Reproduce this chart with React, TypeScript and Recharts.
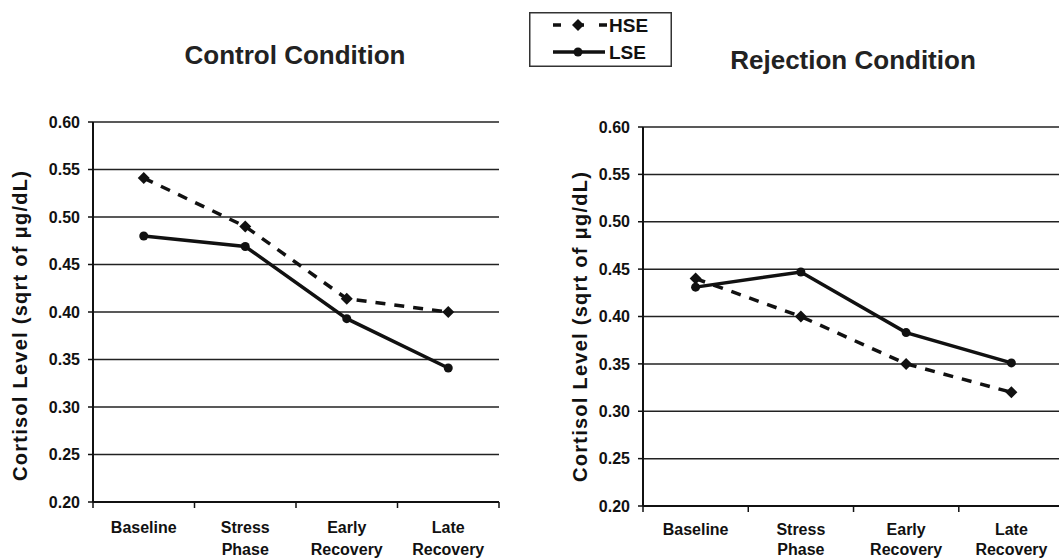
import React from 'react';
import { LineChart, Line, XAxis, YAxis, CartesianGrid, Legend } from 'recharts';

const phases = ['Baseline', 'Stress Phase', 'Early Recovery', 'Late Recovery'];
const seriesNames = ['HSE', 'LSE'];
const controlHSE = [0.541, 0.49, 0.414, 0.4];
const controlLSE = [0.48, 0.469, 0.393, 0.341];
const rejectionHSE = [0.44, 0.4, 0.35, 0.32];
const rejectionLSE = [0.431, 0.447, 0.383, 0.351];
const yTicks = [0.2, 0.25, 0.3, 0.35, 0.4, 0.45, 0.5, 0.55, 0.6];
const titles = ['Control Condition', 'Rejection Condition'];
const yLabel = 'Cortisol Level (sqrt of \u03BCg/dL)';

const FONT = '"Liberation Sans", Arial, Helvetica, sans-serif';
const INK = '#111';

const build = (hse: number[], lse: number[]) =>
  phases.map((p, i) => ({ phase: p, HSE: hse[i], LSE: lse[i] }));

const controlData = build(controlHSE, controlLSE);
const rejectionData = build(rejectionHSE, rejectionLSE);

const Diamond = (props: any) => {
  const { cx, cy, index } = props;
  if (cx == null || cy == null) return <g key={`d${index}`} />;
  const s = 6;
  return (
    <path
      key={`d${index}`}
      d={`M${cx},${cy - s}L${cx + s},${cy}L${cx},${cy + s}L${cx - s},${cy}Z`}
      fill={INK}
    />
  );
};

const Dot = (props: any) => {
  const { cx, cy, index } = props;
  if (cx == null || cy == null) return <g key={`c${index}`} />;
  return <circle key={`c${index}`} cx={cx} cy={cy} r={4.5} fill={INK} />;
};

// category tick: label centred on the band, tick marks on the band edges
const makeXTick = (firstDy: number, lineGap: number, half: number) => (props: any) => {
  const { x, y, payload, index } = props;
  const lines = String(payload.value).split(' ');
  const last = index === phases.length - 1;
  return (
    <g>
      <line x1={x - half} y1={y} x2={x - half} y2={y + 6} stroke={INK} strokeWidth={1.5} />
      {last && <line x1={x + half} y1={y} x2={x + half} y2={y + 6} stroke={INK} strokeWidth={1.5} />}
      <text
        x={x}
        y={y}
        textAnchor="middle"
        fontFamily={FONT}
        fontWeight="bold"
        fontSize={16}
        fill={INK}
      >
        {lines.map((l, i) => (
          <tspan key={i} x={x} dy={i === 0 ? firstDy : lineGap}>
            {l}
          </tspan>
        ))}
      </text>
    </g>
  );
};

const makeYLabel = (cxPos: number, cyPos: number) => () => (
  <text
    x={cxPos}
    y={cyPos}
    transform={`rotate(-90, ${cxPos}, ${cyPos})`}
    textAnchor="middle"
    fontFamily={FONT}
    fontWeight="bold"
    fontSize={20}
    fill={INK}
    textLength={310}
    lengthAdjust="spacing"
  >
    {yLabel}
  </text>
);

const LegendBox = () => (
  <svg width={143} height={55} style={{ display: 'block' }}>
    <rect x={0.75} y={0.75} width={141.5} height={53.5} fill="#fff" stroke="#333" strokeWidth={1.5} />
    <line x1={24} y1={13} x2={78} y2={13} stroke={INK} strokeWidth={3.5} strokeDasharray="8 15" />
    <path d="M49,7L55,13L49,19L43,13Z" fill={INK} />
    <text x={80} y={20} fontFamily={FONT} fontWeight="bold" fontSize={19} fill={INK}>
      {seriesNames[0]}
    </text>
    <line x1={24} y1={40} x2={76} y2={40} stroke={INK} strokeWidth={3.5} />
    <circle cx={49} cy={40} r={4.5} fill={INK} />
    <text x={80} y={47} fontFamily={FONT} fontWeight="bold" fontSize={19} fill={INK}>
      {seriesNames[1]}
    </text>
  </svg>
);

type PanelProps = {
  data: any[];
  width: number;
  margin: { top: number; right: number; bottom: number; left: number };
  pad: number;
  tickDy: number;
  lineGap: number;
  labelX: number;
  labelY: number;
  withLegend?: boolean;
};

const Panel = ({ data, width, margin, pad, tickDy, lineGap, labelX, labelY, withLegend }: PanelProps) => (
  <LineChart width={width} height={559} data={data} margin={margin}>
    <CartesianGrid vertical={false} stroke="#222" strokeWidth={1.5} />
    <XAxis
      dataKey="phase"
      height={50}
      padding={{ left: pad, right: pad }}
      axisLine={{ stroke: INK, strokeWidth: 2 }}
      tickLine={false}
      tickSize={0}
      tickMargin={0}
      interval={0}
      tick={makeXTick(tickDy, lineGap, pad)}
    />
    <YAxis
      domain={[0.2, 0.6]}
      ticks={yTicks}
      width={60}
      axisLine={{ stroke: INK, strokeWidth: 2 }}
      tickLine={{ stroke: INK, strokeWidth: 1.5 }}
      tickSize={5}
      tickMargin={8}
      tickFormatter={(v: number) => v.toFixed(2)}
      tick={{ fontFamily: FONT, fontWeight: 'bold', fontSize: 16, fill: INK }}
      label={{ content: makeYLabel(labelX, labelY) } as any}
    />
    <YAxis
      yAxisId="r"
      orientation="right"
      domain={[0.2, 0.6]}
      width={0}
      tick={false}
      tickLine={false}
      axisLine={{ stroke: '#666', strokeWidth: 1.5 }}
    />
    <Line
      type="linear"
      dataKey="HSE"
      name={seriesNames[0]}
      stroke={INK}
      strokeWidth={3.5}
      strokeDasharray="10 9"
      dot={Diamond}
      activeDot={false}
      isAnimationActive={false}
    />
    <Line
      type="linear"
      dataKey="LSE"
      name={seriesNames[1]}
      stroke={INK}
      strokeWidth={3.5}
      dot={Dot}
      activeDot={false}
      isAnimationActive={false}
    />
    {withLegend && (
      <Legend
        layout="vertical"
        align="center"
        verticalAlign="middle"
        wrapperStyle={{ position: 'absolute', left: 529, top: 12, width: 143, height: 55 }}
        content={() => <LegendBox />}
      />
    )}
  </LineChart>
);

export default function App() {
  return (
    <div
      style={{
        position: 'absolute',
        left: 0,
        top: 0,
        width: 1059,
        height: 559,
        overflow: 'hidden',
        background: '#fff',
      }}
    >
      <div style={{ position: 'absolute', left: 530, top: 0 }}>
        <Panel
          data={rejectionData}
          width={560}
          margin={{ top: 127, right: 26, bottom: 3, left: 53 }}
          pad={52.6}
          tickDy={29}
          lineGap={20}
          labelX={57}
          labelY={327}
        />
      </div>
      <div style={{ position: 'absolute', left: 0, top: 0 }}>
        <Panel
          data={controlData}
          width={530}
          margin={{ top: 122, right: 31, bottom: 7, left: 33 }}
          pad={50.75}
          tickDy={31}
          lineGap={22}
          labelX={27}
          labelY={326}
          withLegend
        />
      </div>
      <svg
        width={1059}
        height={559}
        style={{ position: 'absolute', left: 0, top: 0, pointerEvents: 'none' }}
      >
        <text x={295} y={64} textAnchor="middle" fontFamily={FONT} fontWeight="bold" fontSize={26} fill="#222">
          {titles[0]}
        </text>
        <text x={853} y={69} textAnchor="middle" fontFamily={FONT} fontWeight="bold" fontSize={26} fill="#222">
          {titles[1]}
        </text>
      </svg>
    </div>
  );
}
